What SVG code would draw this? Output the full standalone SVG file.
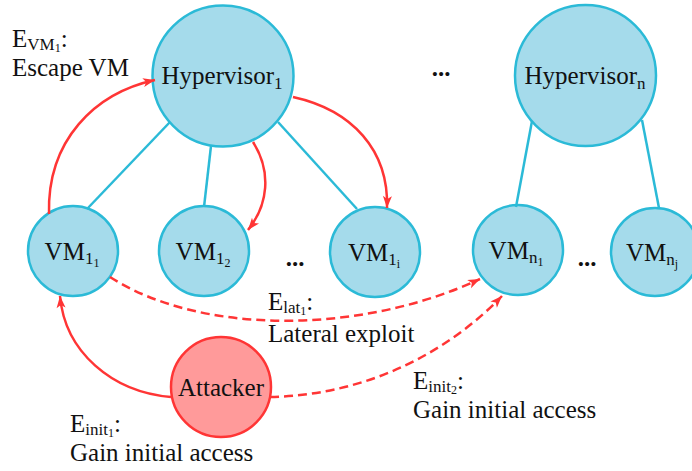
<svg xmlns="http://www.w3.org/2000/svg" width="692" height="471" viewBox="0 0 692 471">
<style>
text { font-family: "Liberation Serif", "Times New Roman", Times, Tinos, "Noto Serif", "DejaVu Serif", serif; fill: #111; }
.node { fill: #a5dbeb; stroke: #2bbad7; stroke-width: 2.5; }
.atk { fill: #ff9a9a; stroke: #ff3535; stroke-width: 2.5; }
.nl { font-size: 25px; text-anchor: middle; }
.lbl { font-size: 25px; }
.s1 { font-size: 17px; }
.s2 { font-size: 12px; }
.dots { font-size: 25px; font-weight: bold; text-anchor: middle; }
.link { stroke: #2bbad7; stroke-width: 2.5; fill: none; }
.att { stroke: #ff3535; stroke-width: 2.5; fill: none; marker-end: url(#ah); }
.dash { stroke-dasharray: 9 5; }
</style>
<defs>
<marker id="ah" markerUnits="userSpaceOnUse" markerWidth="14" markerHeight="10" refX="12" refY="4.5" orient="auto" overflow="visible">
<path d="M0,0 L12,4.5 L0,9 L3,4.5 Z" fill="#ff3535"/>
</marker>
</defs>

<g id="hypervisor1">
<circle class="node" cx="223" cy="76" r="70.5"/>
<text class="nl" x="222" y="84">Hypervisor<tspan class="s1" dy="5">1</tspan></text>
</g>
<g id="hypervisorn">
<circle class="node" cx="585.5" cy="75.5" r="70.5"/>
<text class="nl" x="585" y="84">Hypervisor<tspan class="s1" dy="5">n</tspan></text>
</g>
<g id="vm11">
<circle class="node" cx="73" cy="251" r="45"/>
<text class="nl" x="72" y="260">VM<tspan class="s1" dy="4">1</tspan><tspan class="s2" dy="3">1</tspan></text>
</g>
<g id="vm12">
<circle class="node" cx="204" cy="251" r="45"/>
<text class="nl" x="203" y="260">VM<tspan class="s1" dy="4">1</tspan><tspan class="s2" dy="3">2</tspan></text>
</g>
<g id="vm1i">
<circle class="node" cx="375" cy="252" r="45"/>
<text class="nl" x="374" y="261">VM<tspan class="s1" dy="4">1</tspan><tspan class="s2" dy="3">i</tspan></text>
</g>
<g id="vmn1">
<circle class="node" cx="518" cy="250" r="45"/>
<text class="nl" x="516" y="259">VM<tspan class="s1" dy="4">n</tspan><tspan class="s2" dy="3">1</tspan></text>
</g>
<g id="vmnj">
<circle class="node" cx="655" cy="252" r="44"/>
<text class="nl" x="652" y="261">VM<tspan class="s1" dy="4">n</tspan><tspan class="s2" dy="3">j</tspan></text>
</g>
<g id="attacker">
<circle class="atk" cx="221" cy="387" r="50"/>
<text class="nl" x="221" y="396">Attacker</text>
</g>

<g id="dots">
<text class="dots" x="441" y="76">...</text>
<text class="dots" x="295" y="266">...</text>
<text class="dots" x="587" y="266">...</text>
</g>

<g id="connectors">
<line class="link" x1="170" y1="122" x2="87" y2="209"/>
<line class="link" x1="211" y1="146" x2="204" y2="207"/>
<line class="link" x1="278" y1="122" x2="357" y2="209"/>
<line class="link" x1="532" y1="121" x2="516" y2="207"/>
<line class="link" x1="642" y1="120" x2="659" y2="208"/>
<path class="att" d="M49,214 C47,140 95,93 155,80"/>
<path class="att" d="M253,142 C272,172 268,205 248,230"/>
<path class="att" d="M293,97 C352,110 389,150 387,208"/>
<path class="att" d="M171,397 C112,392 65,352 60,296"/>
<path class="att dash" d="M110,277 C200,335 360,335 480,279"/>
<path class="att dash" d="M270,397 C370,395 450,350 502,296"/>
</g>

<g id="labels">
<text class="lbl" x="12" y="47">E<tspan class="s1" dy="3">VM</tspan><tspan class="s2" dy="2">1</tspan><tspan dy="-5">:</tspan><tspan x="12" dy="29">Escape VM</tspan></text>
<text class="lbl" x="268" y="310">E<tspan class="s1" dy="3">lat</tspan><tspan class="s2" dy="2">1</tspan><tspan dy="-5">:</tspan><tspan x="268" dy="32">Lateral exploit</tspan></text>
<text class="lbl" x="413" y="389">E<tspan class="s1" dy="3">init</tspan><tspan class="s2" dy="2">2</tspan><tspan dy="-5">:</tspan><tspan x="413" dy="29">Gain initial access</tspan></text>
<text class="lbl" x="70" y="432">E<tspan class="s1" dy="3">init</tspan><tspan class="s2" dy="2">1</tspan><tspan dy="-5">:</tspan><tspan x="70" dy="29">Gain initial access</tspan></text>
</g>
</svg>
